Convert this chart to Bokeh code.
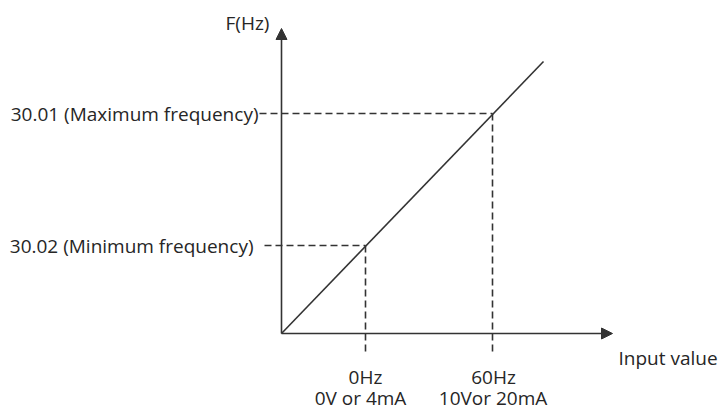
from bokeh.plotting import figure
from bokeh.models import Range1d, Arrow, NormalHead, ColumnDataSource
from bokeh.core.properties import value
from bokeh.embed import file_html
from bokeh.resources import INLINE

# --- diagram data (axis origin at 0,0) ---
line_x = [0, 262]            # characteristic line (input)
line_y = [0, 272]            # characteristic line (frequency)
input_marks = [84, 211]      # 0Hz / 60Hz input positions
freq_levels = [88, 220]      # 30.02 min / 30.01 max frequency levels
freq_labels = ["30.02 (Minimum frequency)", "30.01 (Maximum frequency)"]
input_top = ["0Hz", "60Hz"]
input_bottom = ["0V or 4mA", "10Vor  20mA"]
axis_x_end = 331
axis_y_end = 305
x_title = "Input value"
y_title = "F(Hz)"

FONT = value("Open Sans")
TXT = "#262626"
LN = "#333333"
FS = "19px"

p = figure(width=718, height=413, output_backend="svg", toolbar_location=None,
           x_range=Range1d(-281, 437), y_range=Range1d(-80, 333),
           min_border=0, outline_line_color=None)
p.axis.visible = False
p.grid.visible = False
p.background_fill_color = "white"

# axes with arrows
p.add_layout(Arrow(end=NormalHead(size=11, fill_color=LN, line_color=LN),
                   x_start=0, y_start=0, x_end=axis_x_end, y_end=0,
                   line_color=LN, line_width=1.6))
p.add_layout(Arrow(end=NormalHead(size=11, fill_color=LN, line_color=LN),
                   x_start=0, y_start=0, x_end=0, y_end=axis_y_end,
                   line_color=LN, line_width=1.6))

# characteristic line
p.line(line_x, line_y, line_color=LN, line_width=1.6)

# dashed guides
label_gap = [-17, -22]
for xm, fl, g in zip(input_marks, freq_levels, label_gap):
    p.line([g, xm], [fl, fl], line_color=LN, line_width=1.6, line_dash="7 4")
    p.line([xm, xm], [fl, -19], line_color=LN, line_width=1.6, line_dash="7 4")

# frequency labels (left)
src_f = ColumnDataSource(dict(x=[-28, -23], y=freq_levels, t=freq_labels))
p.text(x="x", y="y", text="t", source=src_f, text_font=FONT, text_font_size=FS,
       text_color=TXT, text_align="right", text_baseline="middle")

# input labels (bottom)
src_t = ColumnDataSource(dict(x=[84, 212], y=[-43, -43], t=input_top))
p.text(x="x", y="y", text="t", source=src_t, text_font=FONT, text_font_size=FS,
       text_color=TXT, text_align="center", text_baseline="middle")
src_b = ColumnDataSource(dict(x=[79, 214], y=[-64, -64], t=input_bottom))
p.text(x="x", y="y", text="t", source=src_b, text_font=FONT, text_font_size=FS,
       text_color=TXT, text_align="center", text_baseline="middle")

# axis titles
p.text(x=[337], y=[-24], text=[x_title], text_font=FONT, text_font_size=FS,
       text_color=TXT, text_align="left", text_baseline="middle")
p.text(x=[-34], y=[311], text=[y_title], text_font=FONT, text_font_size=FS,
       text_color=TXT, text_align="center", text_baseline="middle")

open("out.html", "w").write(file_html(p, INLINE))
